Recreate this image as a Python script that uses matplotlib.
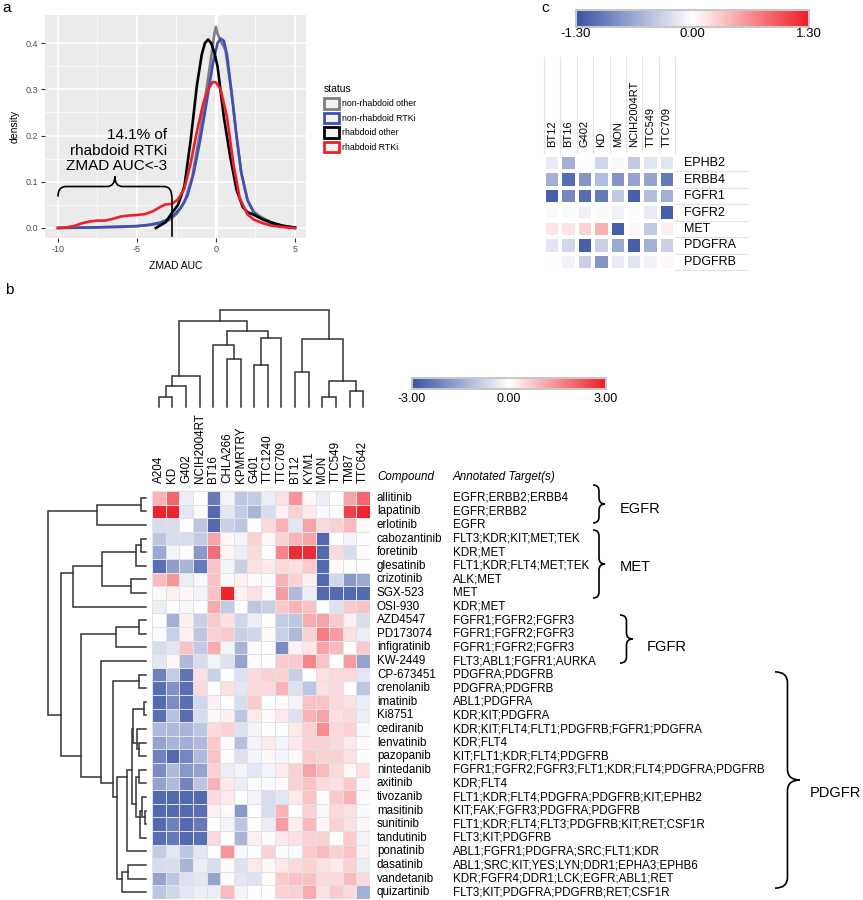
import numpy as np
import matplotlib
matplotlib.use("Agg")
import matplotlib.pyplot as plt
import matplotlib.transforms as mtransforms
from matplotlib.colors import LinearSegmentedColormap, Normalize
from matplotlib.cm import ScalarMappable
from matplotlib.patches import Patch, PathPatch
from matplotlib.path import Path

plt.rcParams['font.family'] = ['Liberation Sans', 'DejaVu Sans']
plt.rcParams['axes.unicode_minus'] = False

W, H = 863, 900

# ---- panel a: density of ZMAD AUC ----
status = ['non-rhabdoid other', 'non-rhabdoid RTKi', 'rhabdoid other', 'rhabdoid RTKi']
status_colors = ['#7f7f7f', '#3f4fb5', '#000000', '#ee1f26']

grey_x = [-10, -8, -6, -5, -4, -3.5, -3, -2.5, -2, -1.5, -1, -0.6, -0.3, -0.1, 0, 0.1, 0.3, 0.6, 1.0, 1.3, 1.6, 2.0, 2.4, 2.8, 3.5, 4.2, 5]
grey_y = [0, 0.001, 0.002, 0.004, 0.007, 0.010, 0.016, 0.030, 0.055, 0.11, 0.21, 0.30, 0.37, 0.42, 0.435, 0.42, 0.405, 0.385, 0.29, 0.20, 0.12, 0.06, 0.035, 0.025, 0.012, 0.005, 0]

blue_x = [-10, -8, -6, -5, -4.2, -3.5, -3, -2.6, -2.2, -1.8, -1.4, -1, -0.6, -0.2, 0.1, 0.3, 0.5, 0.7, 1.0, 1.3, 1.6, 2.0, 2.4, 2.8, 3.5, 4.2, 5]
blue_y = [0, 0.001, 0.003, 0.004, 0.007, 0.012, 0.019, 0.030, 0.045, 0.07, 0.12, 0.19, 0.27, 0.355, 0.40, 0.41, 0.405, 0.375, 0.29, 0.20, 0.12, 0.06, 0.033, 0.022, 0.010, 0.004, 0]

black_x = [-3.8, -3.6, -3.2, -2.8, -2.4, -2.0, -1.6, -1.2, -0.9, -0.7, -0.5, -0.3, -0.1, 0.1, 0.5, 0.9, 1.3, 1.7, 2.0, 2.3, 2.6, 3.0, 3.6, 4.2, 5]
black_y = [0, 0.004, 0.012, 0.032, 0.050, 0.09, 0.19, 0.31, 0.375, 0.40, 0.408, 0.40, 0.38, 0.35, 0.24, 0.155, 0.083, 0.045, 0.034, 0.030, 0.025, 0.018, 0.011, 0.005, 0.001]

red_x = [-10, -9.5, -9, -8.5, -8, -7.5, -7, -6.5, -6, -5.5, -5, -4.5, -4, -3.5, -3.2, -2.8, -2.4, -2, -1.6, -1.2, -0.8, -0.5, -0.2, 0, 0.3, 0.7, 1.1, 1.5, 2.0, 2.4, 3.0, 3.5, 4, 4.5, 5]
red_y = [0, 0.001, 0.004, 0.010, 0.014, 0.016, 0.016, 0.020, 0.025, 0.027, 0.028, 0.030, 0.036, 0.046, 0.051, 0.052, 0.062, 0.085, 0.14, 0.21, 0.27, 0.30, 0.316, 0.315, 0.30, 0.24, 0.14, 0.065, 0.029, 0.018, 0.010, 0.005, 0.003, 0.001, 0]

# ---- panel b: ZMAD AUC heatmap ----
cell_lines = ['A204', 'KD', 'G402', 'NCIH2004RT', 'BT16', 'CHLA266', 'KPMRTRY', 'G401',
              'TTC1240', 'TTC709', 'BT12', 'KYM1', 'MON', 'TTC549', 'TM87', 'TTC642']
compounds = ['allitinib', 'lapatinib', 'erlotinib', 'cabozantinib', 'foretinib', 'glesatinib',
             'crizotinib', 'SGX-523', 'OSI-930', 'AZD4547', 'PD173074', 'infigratinib', 'KW-2449',
             'CP-673451', 'crenolanib', 'imatinib', 'Ki8751', 'cediranib', 'lenvatinib', 'pazopanib',
             'nintedanib', 'axitinib', 'tivozanib', 'masitinib', 'sunitinib', 'tandutinib',
             'ponatinib', 'dasatinib', 'vandetanib', 'quizartinib']
targets = ['EGFR;ERBB2;ERBB4', 'EGFR;ERBB2', 'EGFR', 'FLT3;KDR;KIT;MET;TEK', 'KDR;MET',
           'FLT1;KDR;FLT4;MET;TEK', 'ALK;MET', 'MET', 'KDR;MET', 'FGFR1;FGFR2;FGFR3',
           'FGFR1;FGFR2;FGFR3', 'FGFR1;FGFR2;FGFR3', 'FLT3;ABL1;FGFR1;AURKA', 'PDGFRA;PDGFRB',
           'PDGFRA;PDGFRB', 'ABL1;PDGFRA', 'KDR;KIT;PDGFRA', 'KDR;KIT;FLT4;FLT1;PDGFRB;FGFR1;PDGFRA',
           'KDR;FLT4', 'KIT;FLT1;KDR;FLT4;PDGFRB', 'FGFR1;FGFR2;FGFR3;FLT1;KDR;FLT4;PDGFRA;PDGFRB',
           'KDR;FLT4', 'FLT1;KDR;FLT4;PDGFRA;PDGFRB;KIT;EPHB2', 'KIT;FAK;FGFR3;PDGFRA;PDGFRB',
           'FLT1;KDR;FLT4;FLT3;PDGFRB;KIT;RET;CSF1R', 'FLT3;KIT;PDGFRB',
           'ABL1;FGFR1;PDGFRA;SRC;FLT1;KDR', 'ABL1;SRC;KIT;YES;LYN;DDR1;EPHA3;EPHB6',
           'KDR;FGFR4;DDR1;LCK;EGFR;ABL1;RET', 'FLT3;KIT;PDGFRA;PDGFRB;RET;CSF1R']
zmad = [
    [1.0, 2.0, -0.3, 0.0, -2.3, -0.2, -1.0, -0.9, -0.3, 0.4, 1.4, 0.1, -0.3, 0.0, 1.2, 2.0],
    [2.9, 2.9, -0.4, 0.05, -2.6, -0.4, -0.9, -1.3, -0.6, 0.2, 0.6, 0.3, -0.1, -0.05, 2.5, 2.9],
    [-0.6, -0.6, 0.0, -1.0, -2.6, -0.8, -1.0, 0.0, 0.5, 1.0, -0.4, 1.2, 0.5, 0.6, 0.9, 0.1],
    [-1.0, -0.6, -0.6, -0.9, 1.2, 0.1, -0.2, 0.6, 0.1, 0.6, 1.0, 1.2, -2.6, 0.0, -0.2, 0.0],
    [-1.5, -0.2, -0.05, -1.8, 1.9, 0.1, -0.3, 0.5, 0.0, 1.6, 2.8, 2.8, -2.6, 0.5, -0.6, 0.05],
    [-2.5, -1.7, -1.3, -2.3, 0.8, -0.2, -0.8, 0.4, 0.3, 0.5, 0.4, 0.7, -2.6, 0.05, 0.0, 0.0],
    [0.9, 1.4, -0.3, -0.1, 0.8, -0.1, 0.2, 0.05, -0.05, 1.0, 0.6, 0.2, -2.6, -0.7, -1.8, -1.5],
    [0.1, 0.2, 0.1, -0.2, 0.8, 2.9, 0.2, 0.4, -0.05, 1.3, -1.2, -0.3, -2.6, -2.6, -2.6, -2.6],
    [-0.3, 0.0, -0.1, 0.0, 1.1, -0.9, 0.0, -1.0, -0.8, 0.7, 1.0, 0.8, 0.0, -0.5, 0.7, 0.8],
    [0.0, -1.4, 0.2, -0.8, 0.7, 0.4, -0.7, -0.3, 0.0, -0.9, -1.0, 1.1, 1.2, 0.7, 0.2, -0.6],
    [-0.05, -0.8, 0.2, -1.0, 0.6, 0.7, -0.8, -0.7, 0.05, -0.8, -1.2, 0.6, 1.7, 1.3, 0.4, -0.3],
    [-0.6, -0.4, 0.8, -0.9, 1.1, -0.2, -1.3, 0.05, 0.0, -2.0, 0.2, 0.3, 1.2, 0.9, 0.0, 0.7],
    [-0.4, 0.1, -1.2, -0.6, -0.2, -0.5, -1.6, 0.05, 0.0, 0.7, 0.7, 1.6, 0.8, 0.0, 1.3, -1.6],
    [-2.2, -0.9, -2.4, 0.4, -0.8, 0.0, -0.5, 0.5, 0.6, 0.6, -0.8, 0.0, 0.4, 0.5, 0.5, -0.4],
    [-2.5, -1.9, -2.5, 0.5, 0.0, 0.4, -0.4, 0.5, 0.5, 1.0, -0.5, -1.0, 0.4, 0.5, 0.0, -1.0],
    [-2.6, -2.0, -2.5, -0.7, 0.2, 0.0, -0.6, 0.7, 0.0, 0.05, -0.2, 0.8, 0.8, 0.5, 0.4, -0.3],
    [-2.5, -1.1, -2.5, -0.6, 0.1, 0.2, -1.0, 0.3, 0.05, 0.3, -0.5, 1.0, 1.2, 0.4, 0.5, -0.3],
    [-1.2, -1.2, -1.3, -1.0, 0.5, 0.6, -0.5, -0.2, 0.0, 0.0, 0.3, 0.6, 1.5, 0.5, 0.6, -0.1],
    [-1.6, -1.3, -1.4, -1.2, 0.7, 0.05, -1.1, -0.2, 0.3, -0.2, 0.3, 0.6, 0.6, 0.5, 0.3, 0.05],
    [-2.2, -2.6, -2.1, -1.2, 0.8, 0.0, -0.5, -0.2, 0.1, -0.2, 0.1, 0.7, 0.6, 0.6, 0.4, 0.0],
    [-2.0, -1.2, -1.8, -1.6, 0.6, -0.3, -0.2, -0.4, -0.2, 0.3, 0.6, 1.2, 0.9, 0.5, 0.1, 0.4],
    [-1.6, -1.2, -2.1, -1.0, 1.0, 0.3, -0.3, -0.05, -0.05, 0.05, 0.6, 0.8, 0.5, 0.4, 0.7, -0.1],
    [-2.6, -2.6, -2.6, -2.6, 0.5, 0.3, 0.0, -0.2, -0.6, -0.4, 0.3, 0.8, 0.0, 0.7, 1.0, 0.05],
    [-2.6, -2.6, -2.6, -2.5, 0.2, 0.05, -1.8, 0.0, -0.6, 1.0, 0.0, 0.6, 0.1, 0.5, 0.4, -0.1],
    [-2.6, -2.2, -2.6, -2.3, 0.0, -0.2, -1.0, 0.0, -0.3, 1.3, 0.2, 0.9, 0.1, 0.6, 0.4, 0.1],
    [-2.5, -2.3, -2.6, -2.5, 0.5, 0.0, -1.3, 0.2, 0.05, 0.3, 0.4, 0.6, 0.6, 0.0, 0.7, -0.2],
    [-0.9, -0.4, -1.0, -0.4, 0.0, 1.4, -0.1, 0.0, 0.6, -0.05, -0.1, 0.7, 0.9, 0.6, 0.8, 0.2],
    [-0.6, -0.6, -1.3, -0.3, -0.6, 0.05, -0.5, 0.3, 0.1, 0.3, 0.5, 0.6, 0.4, 0.3, 0.6, -0.3],
    [-1.6, -1.0, -0.5, -0.4, -1.6, -0.05, -0.4, -0.5, 0.05, 0.7, 0.8, 0.8, 0.5, 0.5, 0.9, 0.5],
    [-1.0, -0.7, -0.4, -0.3, -0.3, 0.9, -0.2, 0.0, 0.0, 0.6, 0.6, 1.1, 0.4, 0.7, 0.5, -1.4],
]
# linkage (child a, child b, height); ids >= n are earlier merges
col_merges = [(0, 1, 10.3), (16, 2, 21), (17, 3, 31), (5, 6, 48), (4, 19, 62), (7, 8, 42),
              (21, 9, 69.3), (20, 22, 76), (18, 23, 86), (10, 11, 35), (12, 13, 10.3),
              (14, 15, 16.3), (26, 27, 26), (25, 28, 68), (24, 29, 97)]
row_merges = [(0, 1, 5.3), (30, 2, 48.7), (3, 4, 4.7), (32, 5, 10), (6, 7, 15.3), (33, 34, 44.3),
              (35, 8, 73.3), (9, 10, 7.3), (37, 11, 30.3), (13, 14, 6.7), (15, 16, 2),
              (18, 19, 7), (17, 41, 9.3), (40, 42, 13.3), (20, 21, 7), (23, 24, 1), (22, 45, 4),
              (46, 25, 6), (44, 47, 10.5), (43, 48, 14.5), (49, 26, 19.3), (27, 28, 18),
              (51, 29, 24), (50, 52, 29), (39, 53, 33), (12, 54, 45), (38, 55, 65), (36, 56, 85),
              (31, 57, 98)]
groups = ['EGFR', 'MET', 'FGFR', 'PDGFR']

# ---- panel c: per-target heatmap ----
c_lines = ['BT12', 'BT16', 'G402', 'KD', 'MON', 'NCIH2004RT', 'TTC549', 'TTC709']
c_genes = ['EPHB2', 'ERBB4', 'FGFR1', 'FGFR2', 'MET', 'PDGFRA', 'PDGFRB']
c_vals = [
    [-0.15, -0.6, 0.0, -0.3, -0.05, -0.4, -0.2, -0.2],
    [-0.6, -1.1, -0.8, -0.5, -0.8, -0.7, -0.7, -1.0],
    [-1.2, -0.9, -1.1, -1.0, -0.4, -1.2, -0.5, -0.6],
    [-0.03, -0.03, -0.1, -0.05, -0.1, -0.03, -0.15, -1.2],
    [0.15, 0.15, 0.25, 0.45, -1.2, 0.05, -0.4, 0.1],
    [-0.2, -0.3, -1.2, -0.35, -0.65, -1.2, -0.6, -0.35],
    [0.0, -0.1, -0.35, -0.8, -0.15, -0.2, -0.1, 0.05],
]

cmap = LinearSegmentedColormap.from_list('bwr2', ['#3953a4', '#ffffff', '#ed1c24'])


def box(l, t, r, b):
    return [l / W, 1 - b / H, (r - l) / W, (b - t) / H]


def brace(ax, a0, a1, b0, b1, d, horizontal, transform, lw=1.2):
    bm = (b0 + b1) / 2
    am = (a0 + a1) / 2
    pts = [(a0, b0), (a0, bm), (a0 + d, bm), (am - d, bm), (am, bm), (am, b1),
           (am, bm), (am + d, bm), (a1 - d, bm), (a1, bm), (a1, b0)]
    if not horizontal:
        pts = [(q, p) for p, q in pts]
    codes = [Path.MOVETO, Path.CURVE3, Path.CURVE3, Path.LINETO, Path.CURVE3, Path.CURVE3,
             Path.CURVE3, Path.CURVE3, Path.LINETO, Path.CURVE3, Path.CURVE3]
    ax.add_patch(PathPatch(Path(pts, codes), fill=False, lw=lw, ec='black',
                           transform=transform, clip_on=False))


def dendro(ax, merges, n, horizontal):
    pos = [float(i) for i in range(n)]
    hts = [0.0] * n
    leaves = [[i] for i in range(n)]
    for a, b, h in merges:
        p = [pos[a], pos[a], pos[b], pos[b]]
        q = [hts[a], h, h, hts[b]]
        if horizontal:
            ax.plot(q, p, color='#333333', lw=1.1, clip_on=False, solid_joinstyle='miter')
        else:
            ax.plot(p, q, color='#333333', lw=1.1, clip_on=False, solid_joinstyle='miter')
        lv = leaves[a] + leaves[b]
        leaves.append(lv)
        pos.append(float(np.mean(lv)))
        hts.append(h)


fig = plt.figure(figsize=(W / 100, H / 100), dpi=100)

# ================= panel a =================
ax = fig.add_axes(box(45, 15, 306, 238))
ax.set_facecolor('#ebebeb')
for s in ax.spines.values():
    s.set_visible(False)
ax.set_xlim(-10.82, 5.70)
ax.set_ylim(-0.0217, 0.461)
ax.set_xticks([-10, -5, 0, 5])
ax.set_xticks([-7.5, -2.5, 2.5], minor=True)
ax.set_yticks([0, 0.1, 0.2, 0.3, 0.4])
ax.set_yticks([0.05, 0.15, 0.25, 0.35], minor=True)
ax.set_yticklabels(['0.0', '0.1', '0.2', '0.3', '0.4'])
ax.grid(which='major', color='white', lw=1.1)
ax.grid(which='minor', color='white', lw=0.5)
ax.set_axisbelow(True)
ax.tick_params(which='major', length=3, color='#333333', labelsize=6.5, labelcolor='#4d4d4d', pad=2)
ax.tick_params(which='minor', length=0)
ax.axvline(0, color='white', lw=2.2, zorder=0.8)
series = [(grey_x, grey_y), (blue_x, blue_y), (black_x, black_y), (red_x, red_y)]
for (xs, ys), c in zip(series, status_colors):
    ax.plot(xs, ys, color=c, lw=1.9, zorder=3)
ax.set_xlabel('ZMAD AUC', fontsize=7.5, labelpad=5)
ax.set_ylabel('density', fontsize=7.5, labelpad=4)

brace(ax, -10, -2.8, 0.068, 0.1115, 0.5, True, ax.transData)
ax.plot([-2.8, -2.8], [0.068, -0.018], color='black', lw=1.2, zorder=4)
ax.text(-3.1, 0.118, '14.1% of\nrhabdoid RTKi\nZMAD AUC<-3', ha='right', va='bottom',
        multialignment='right', fontsize=11, linespacing=1.15)

handles = [Patch(facecolor='#f2f2f2', edgecolor=c, linewidth=2) for c in status_colors]
fig.legend(handles, status, loc='upper left', bbox_to_anchor=(324 / W, 1 - 84 / H),
           frameon=False, title='status', alignment='left', fontsize=6.3, title_fontsize=7.5,
           handlelength=1.7, handleheight=1.5, labelspacing=0.45, handletextpad=0.3,
           borderpad=0, borderaxespad=0)

fig.text(2 / W, 1 - 1 / H, 'a', fontsize=11, ha='left', va='top')
fig.text(5 / W, 1 - 283 / H, 'b', fontsize=11, ha='left', va='top')
fig.text(541 / W, 1 - 1 / H, 'c', fontsize=11, ha='left', va='top')

# ================= panel b =================
nr, nc = len(compounds), len(cell_lines)
axh = fig.add_axes(box(152, 491, 370, 899))
axh.pcolormesh(np.array(zmad), cmap=cmap, vmin=-3, vmax=3, edgecolors='#e2e2e6', linewidth=0.4)
axh.set_xlim(0, nc)
axh.set_ylim(nr, 0)
axh.axis('off')
tb = mtransforms.blended_transform_factory(axh.transData, axh.transAxes)
for j, name in enumerate(cell_lines):
    axh.text(j + 0.5, 1.0196, name, rotation=90, ha='center', va='bottom', fontsize=8.4, transform=tb)
tr = mtransforms.blended_transform_factory(axh.transAxes, axh.transData)
for i, (cp, tg) in enumerate(zip(compounds, targets)):
    axh.text(1.032, i + 0.5, cp, ha='left', va='center', fontsize=8.4, transform=tr)
    axh.text(1.381, i + 0.5, tg, ha='left', va='center', fontsize=8.4, transform=tr)
axh.text(1.032, 1.0196, 'Compound', style='italic', ha='left', va='bottom', fontsize=8.4, transform=axh.transAxes)
axh.text(1.381, 1.0196, 'Annotated Target(s)', style='italic', ha='left', va='bottom', fontsize=8.4, transform=axh.transAxes)

# group braces: (top row, bottom row, tip row, x0, x1, text x, text row)
brace_rows = [(-0.44, 2.35, 0.96, 2.023, 2.078, 2.147, 0.81),
              (2.87, 7.87, 5.44, 2.023, 2.078, 2.147, 5.07),
              (9.12, 12.65, 10.96, 2.147, 2.206, 2.271, 10.96),
              (13.3, 29.2, 21.47, 2.858, 2.972, 3.018, 21.74)]
for g, (r0, r1, rt, x0, x1, xt, yt) in zip(groups, brace_rows):
    d = 0.45 if g != 'PDGFR' else 0.8
    brace(axh, r0, r1, x0, x1, d, False, tr)
    axh.text(xt, yt + 0.5, g, ha='left', va='center', fontsize=10.5, transform=tr)

axd = fig.add_axes(box(152, 310, 370, 407))
dendro(axd, col_merges, nc, False)
axd.set_xlim(-0.5, nc - 0.5)
axd.set_ylim(0, 97)
axd.axis('off')

axr = fig.add_axes(box(48, 491, 146, 899))
dendro(axr, row_merges, nr, True)
axr.set_xlim(98, 0)
axr.set_ylim(nr - 0.5, -0.5)
axr.axis('off')

cax = fig.add_axes(box(412, 378, 606, 389))
cb = fig.colorbar(ScalarMappable(Normalize(-3, 3), cmap), cax=cax, orientation='horizontal', ticks=[-3, 0, 3])
cb.ax.set_xticklabels(['-3.00', '0.00', '3.00'])
cb.ax.tick_params(length=0, labelsize=9, pad=3)
cb.outline.set_edgecolor('#c8c8c8')
cb.outline.set_linewidth(1.5)

# ================= panel c =================
axc = fig.add_axes(box(544, 155, 675, 270))
axc.pcolormesh(np.array(c_vals), cmap=cmap, vmin=-1.3, vmax=1.3, edgecolors='white', linewidth=1.5)
axc.set_xlim(0, len(c_lines))
axc.set_ylim(len(c_genes), 0)
axc.axis('off')
tcb = mtransforms.blended_transform_factory(axc.transData, axc.transAxes)
tcr = mtransforms.blended_transform_factory(axc.transAxes, axc.transData)
for j, name in enumerate(c_lines):
    axc.text(j + 0.5, 1.07, name, rotation=90, ha='center', va='bottom', fontsize=8, transform=tcb)
for j in range(len(c_lines) + 1):
    axc.plot([j, j], [1.02, 1.852], color='#e3e3e3', lw=0.8, transform=tcb, clip_on=False)
for i, name in enumerate(c_genes):
    axc.text(1.069, i + 0.5, name, ha='left', va='center', fontsize=9, transform=tcr)
    axc.plot([1.0, 1.557], [i + 1, i + 1], color='#e3e3e3', lw=0.8, transform=tcr, clip_on=False)

cax2 = fig.add_axes(box(576, 10, 809, 27))
cb2 = fig.colorbar(ScalarMappable(Normalize(-1.3, 1.3), cmap), cax=cax2, orientation='horizontal', ticks=[-1.3, 0, 1.3])
cb2.ax.set_xticklabels(['-1.30', '0.00', '1.30'])
cb2.ax.tick_params(length=0, labelsize=9.5, pad=1)
cb2.outline.set_edgecolor('#c8c8c8')
cb2.outline.set_linewidth(1.5)

fig.savefig('out.png', dpi=100)
